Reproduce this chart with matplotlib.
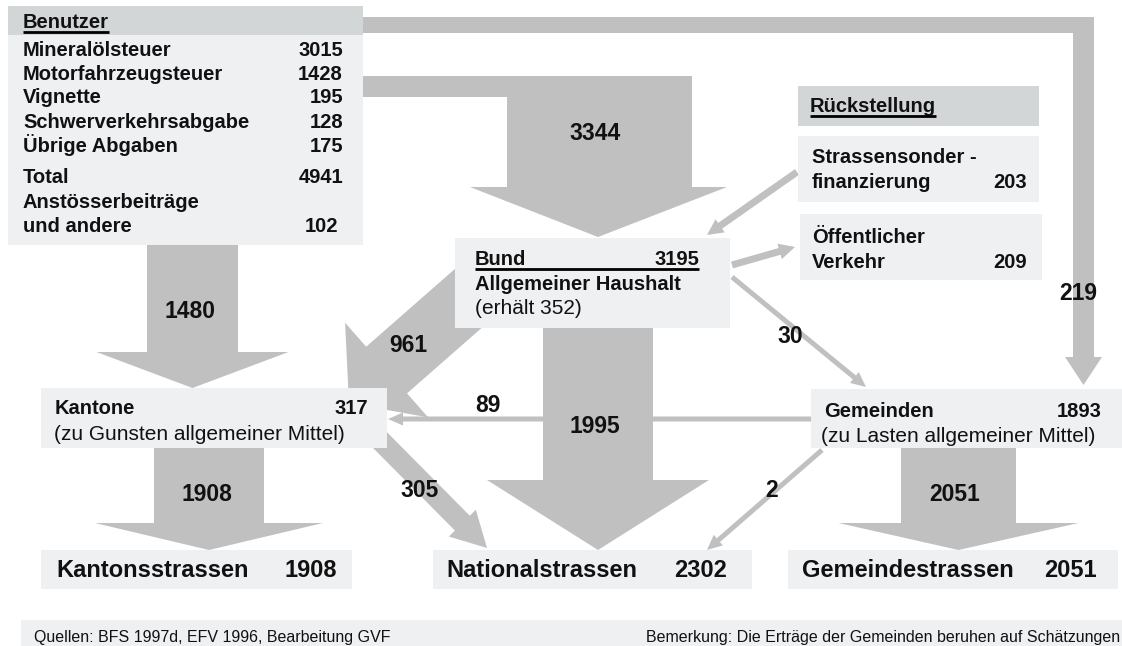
import matplotlib.pyplot as plt
from matplotlib.patches import Polygon, Rectangle
import numpy as np

plt.rcParams['font.family'] = ['Liberation Sans', 'DejaVu Sans']

# --- values (Mio. Fr.) ---
benutzer_items = ["Mineralölsteuer", "Motorfahrzeugsteuer", "Vignette",
                  "Schwerverkehrsabgabe", "Übrige Abgaben"]
benutzer_values = [3015, 1428, 195, 128, 175]
benutzer_total = 4941
anstoesser_value = 102
bund_value = 3195
bund_erhaelt = 352
kantone_value = 317
gemeinden_value = 1893
rueck_labels = ["Strassensonder -", "Öffentlicher"]
rueck_labels2 = ["finanzierung", "Verkehr"]
rueck_values = [203, 209]
strassen_labels = ["Kantonsstrassen", "Nationalstrassen", "Gemeindestrassen"]
strassen_values = [1908, 2302, 2051]
# flows between the nodes
flow_names = ["benutzer_bund", "benutzer_kantone", "benutzer_gemeinden",
              "bund_kantone", "bund_national", "gemeinden_kantone",
              "bund_gemeinden", "kantone_national", "gemeinden_national",
              "kantone_strassen", "gemeinden_strassen"]
flow_values = [3344, 1480, 219, 961, 1995, 89, 30, 305, 2, 1908, 2051]
flows = dict(zip(flow_names, flow_values))

ARROW = "#c0c0c0"
BOX = "#eff0f2"
HEAD = "#d3d6d7"
FS = 14.5      # bold box text
FS_N = 15      # normal box text

fig = plt.figure(figsize=(11.22, 6.46), dpi=100)
ax = fig.add_axes([0, 0, 1, 1])
ax.set_xlim(0, 1122)
ax.set_ylim(646, 0)
ax.axis("off")


def block_arrow(start, tip, shaft_hw, head_hw, head_len):
    s = np.array(start, float)
    t = np.array(tip, float)
    d = (t - s) / np.linalg.norm(t - s)
    n = np.array([-d[1], d[0]])
    b = t - d * head_len
    pts = [s + n * shaft_hw, b + n * shaft_hw, b + n * head_hw, t,
           b - n * head_hw, b - n * shaft_hw, s - n * shaft_hw]
    ax.add_patch(Polygon(pts, closed=True, fc=ARROW, ec="none", zorder=1))


def box(x0, y0, x1, y1, color=BOX):
    ax.add_patch(Rectangle((x0, y0), x1 - x0, y1 - y0, fc=color, ec="none", zorder=2))


def txt(x, y, s, size=FS, bold=True, ha="left"):
    return ax.text(x, y, s, fontsize=size, fontweight="bold" if bold else "normal",
                   ha=ha, va="baseline", color="#111111", zorder=3)


def underline(t, x_end=None, lw=2):
    fig.canvas.draw()
    bb = t.get_window_extent(fig.canvas.get_renderer())
    (x0, _), (x1, _) = ax.transData.inverted().transform([[bb.x0, bb.y0], [bb.x1, bb.y0]])
    y = t.get_position()[1] + 4
    ax.plot([x0, x_end if x_end else x1], [y, y], color="black", lw=lw, zorder=3,
            solid_capstyle="butt")


# --- big flows ---
# Benutzer -> Bund (L-shaped)
ax.add_patch(Polygon([(355, 76), (692, 76), (692, 187), (727, 187), (598, 237),
                      (470, 187), (507, 187), (507, 97), (355, 97)],
                     closed=True, fc=ARROW, ec="none", zorder=1))
# Benutzer -> Gemeinden (around the top)
ax.add_patch(Polygon([(355, 17), (1094, 17), (1094, 357), (1102, 357), (1083.5, 385),
                      (1065, 357), (1073, 357), (1073, 33), (355, 33)],
                     closed=True, fc=ARROW, ec="none", zorder=1))
block_arrow((192.5, 240), (192.5, 388), 45.5, 96, 36)        # 1480
block_arrow((503, 268), (349, 403), 31, 63, 50)              # 961
block_arrow((598, 320), (598, 550), 55, 111, 70)             # 1995
block_arrow((372, 432), (487, 548), 10.5, 19, 35)            # 305
block_arrow((209, 445), (209, 550), 55, 114, 27)             # 1908
block_arrow((958.5, 445), (958.5, 550), 57.5, 120, 27)       # 2051

# --- thin flows ---
block_arrow((811, 419), (388, 419), 2.5, 6.5, 15)            # 89
block_arrow((732, 277), (866, 387), 2.5, 7, 15)              # 30
block_arrow((822, 450), (707, 550), 2.5, 7, 15)              # 2
block_arrow((797, 172), (707, 235), 3.5, 8, 16)              # Strassensonderfin.
block_arrow((732, 265), (795, 247), 3.5, 8, 16)              # öffentlicher Verkehr

# --- boxes ---
box(8, 6, 363, 35, HEAD)
box(8, 35, 363, 245)
box(455, 238, 730, 328)
box(798, 86, 1039, 126, HEAD)
box(798, 136, 1039, 202)
box(800, 214, 1042, 280)
box(41, 388, 387, 448)
box(811, 389, 1122, 448)
box(41, 550, 352, 589)
box(433, 550, 752, 589)
box(788, 550, 1118, 589)
box(21, 620, 1122, 646)

# --- Benutzer text ---
t = txt(23, 28, "Benutzer")
underline(t)
row_y = [56, 80, 103, 128, 152]
for name, val, y in zip(benutzer_items, benutzer_values, row_y):
    txt(23, y, name)
    txt(343, y, str(val), ha="right")
txt(23, 183, "Total")
txt(343, 183, str(benutzer_total), ha="right")
txt(23, 208, "Anstösserbeiträge")
txt(23, 232, "und andere")
txt(338, 232, str(anstoesser_value), ha="right")

# --- Bund ---
t = txt(475, 265, "Bund")
txt(699, 265, str(bund_value), ha="right")
underline(t, x_end=699)
txt(475, 290, "Allgemeiner Haushalt")
txt(475, 314, f"(erhält {bund_erhaelt})", size=FS_N, bold=False)

# --- Rückstellung ---
t = txt(810, 112, "Rückstellung")
underline(t)
for i, (a, b, v) in enumerate(zip(rueck_labels, rueck_labels2, rueck_values)):
    y0 = [163, 243][i]
    txt(812, y0, a)
    txt(812, y0 + 25, b)
    txt(1027, y0 + 25, str(v), ha="right")

# --- Kantone / Gemeinden ---
txt(55, 414, "Kantone")
txt(368, 414, str(kantone_value), ha="right")
txt(54, 440, "(zu Gunsten allgemeiner Mittel)", size=FS_N, bold=False)
txt(824, 417, "Gemeinden")
txt(1102, 417, str(gemeinden_value), ha="right")
txt(821, 442, "(zu Lasten allgemeiner Mittel)", size=FS_N, bold=False)

# --- road boxes ---
for name, val, xl, xr in zip(strassen_labels, strassen_values, [56, 446, 802], [337, 727, 1097]):
    txt(xl, 577, name, size=17)
    txt(xr, 577, str(val), size=17, ha="right")

# --- flow labels ---
label_pos = {
    "benutzer_bund": (595, 140), "benutzer_kantone": (190, 318),
    "benutzer_gemeinden": (1078, 300), "bund_kantone": (408, 352),
    "bund_national": (595, 433), "gemeinden_kantone": (488, 412),
    "bund_gemeinden": (790, 343), "kantone_national": (420, 497),
    "gemeinden_national": (772, 497), "kantone_strassen": (207, 501),
    "gemeinden_strassen": (955, 501),
}
for k, (x, y) in label_pos.items():
    txt(x, y, str(flows[k]), size=16.5, ha="center")

# --- footer ---
txt(34, 642, "Quellen: BFS 1997d, EFV 1996, Bearbeitung GVF", size=11.5, bold=False)
txt(646, 642, "Bemerkung: Die Erträge der Gemeinden beruhen auf Schätzungen",
    size=11.5, bold=False)

fig.savefig("out.png", dpi=100)
